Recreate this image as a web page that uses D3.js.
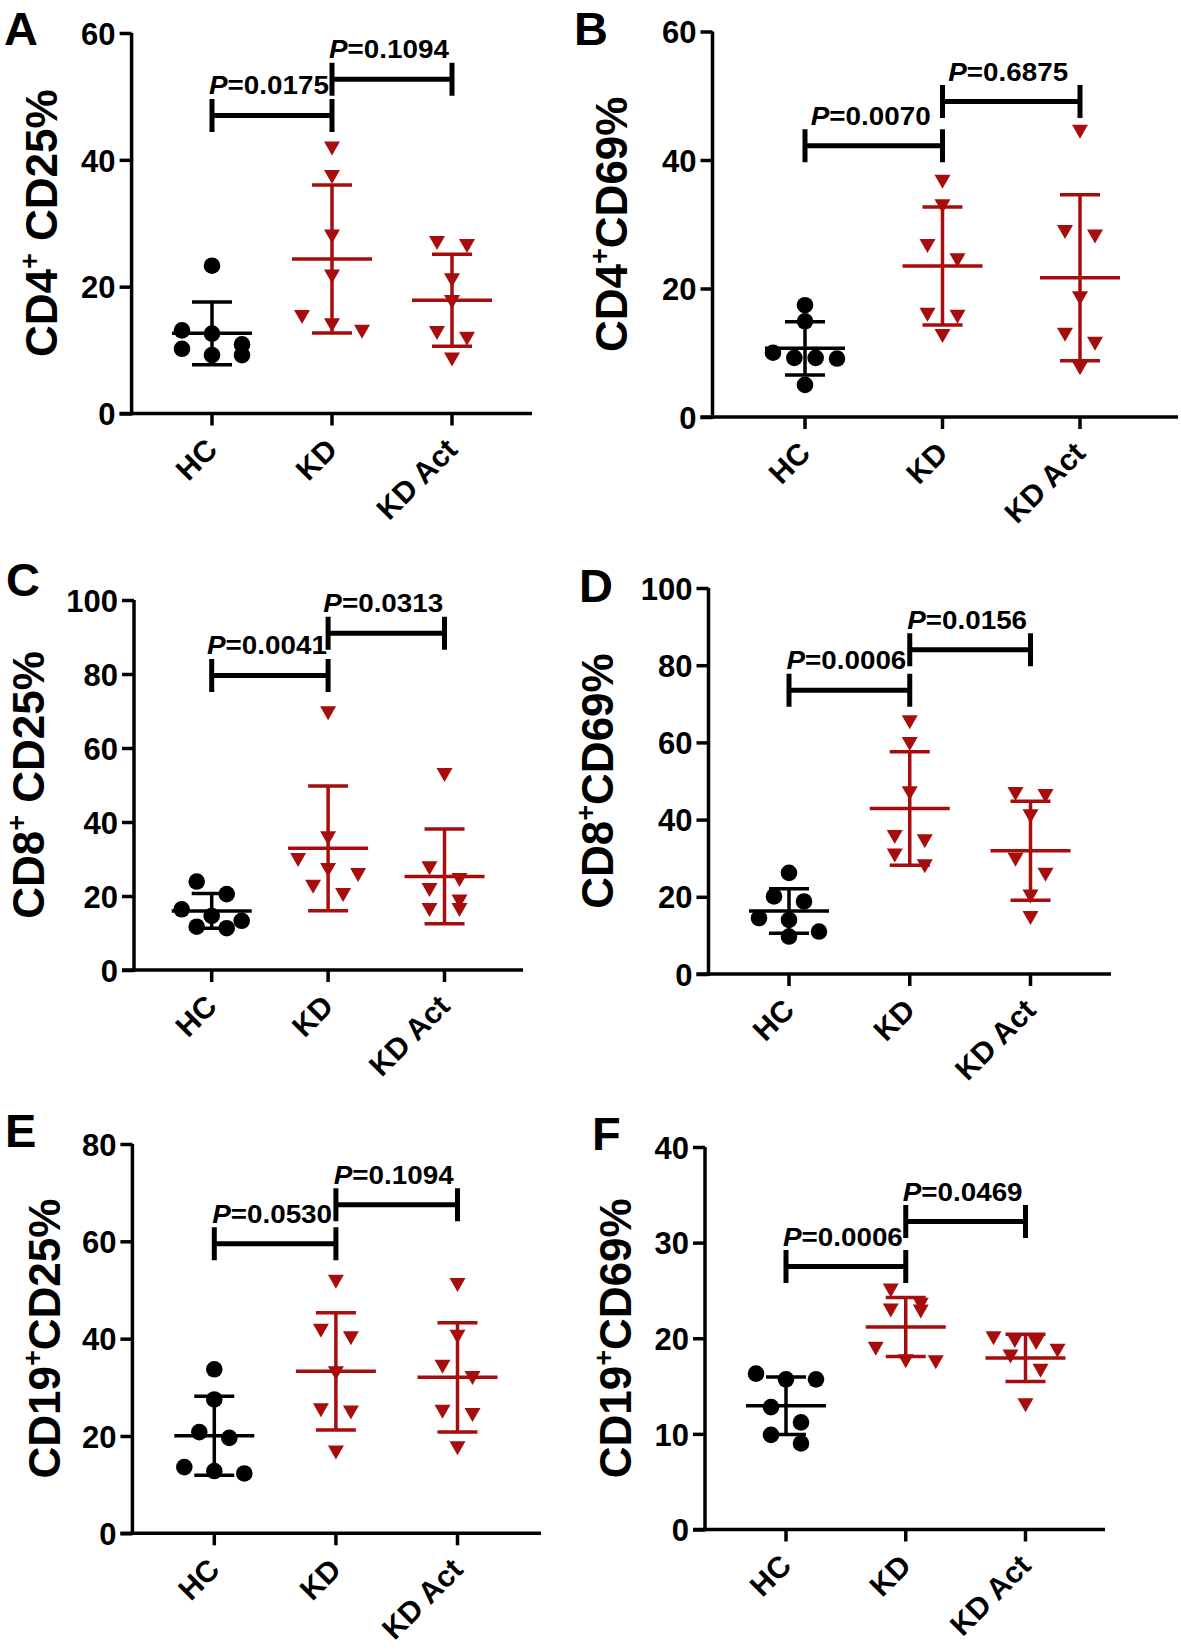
<!DOCTYPE html>
<html><head><meta charset="utf-8">
<script src="https://cdn.jsdelivr.net/npm/d3@7"></script>
<style>
body{margin:0;background:#fff}
svg{display:block}
text{font-family:"Liberation Sans",Arial,Helvetica,sans-serif;font-weight:bold;fill:#000}
</style>
</head><body>
<svg id="chart" width="1181" height="1650"></svg>
<script>
// ---------------- DATA ----------------
const groups = ["HC", "KD", "KD Act"];

const A_HC    = [23.3, 13.1, 12.6, 10.9, 10.2, 9.2, 9.2];
const A_KD    = [41.8, 37.3, 27.9, 21.6, 15.2, 13.9, 12.9];
const A_KDAct = [26.9, 26.4, 21.0, 17.6, 12.7, 11.8, 8.5];
const A_ticks = [0, 20, 40, 60];
const A_pvals = ["0.0175", "0.1094"];
const A_pY    = [47.0, 52.7];

const B_HC    = [17.4, 14.9, 10.0, 9.2, 9.2, 9.1, 5.0];
const B_KD    = [36.6, 32.8, 26.6, 24.4, 15.9, 15.6, 12.6];
const B_KDAct = [44.4, 28.8, 28.1, 18.5, 12.8, 11.4, 7.6];
const B_ticks = [0, 20, 40, 60];
const B_pvals = ["0.0070", "0.6875"];
const B_pY    = [42.2, 49.1];

const C_HC    = [23.9, 20.5, 16.4, 14.6, 13.3, 11.7, 11.3];
const C_KD    = [69.4, 35.6, 29.7, 27.0, 25.7, 22.5, 20.3];
const C_KDAct = [52.7, 27.5, 24.3, 21.6, 18.5, 16.2, 16.2];
const C_ticks = [0, 20, 40, 60, 80, 100];
const C_pvals = ["0.0041", "0.0313"];
const C_pY    = [79.6, 91.0];

const D_HC    = [26.2, 20.1, 18.8, 14.5, 14.0, 11.0, 9.7];
const D_KD    = [65.2, 59.6, 46.8, 35.5, 34.4, 30.7, 27.9];
const D_KDAct = [46.6, 46.1, 40.9, 29.6, 25.7, 20.1, 14.5];
const D_ticks = [0, 20, 40, 60, 80, 100];
const D_pvals = ["0.0006", "0.0156"];
const D_pY    = [73.5, 84.0];

const E_HC    = [33.7, 27.5, 20.8, 19.6, 13.6, 12.8, 12.3];
const E_KD    = [51.7, 41.6, 40.1, 32.9, 25.3, 24.8, 16.6];
const E_KDAct = [51.0, 40.4, 34.2, 31.9, 25.0, 24.3, 17.5];
const E_ticks = [0, 20, 40, 60, 80];
const E_pvals = ["0.0530", "0.1094"];
const E_pY    = [59.5, 67.5];

const F_HC    = [16.3, 15.7, 15.7, 12.8, 11.2, 9.9, 9.0];
const F_KD    = [25.0, 23.5, 22.9, 22.8, 18.9, 17.6, 17.5];
const F_KDAct = [20.0, 19.7, 19.5, 18.7, 18.1, 16.6, 13.0];
const F_ticks = [0, 10, 20, 30, 40];
const F_pvals = ["0.0006", "0.0469"];
const F_pY    = [27.5, 32.2];

const titles = {
  A: ["CD4", "+", " CD25%"],
  B: ["CD4", "+", "CD69%"],
  C: ["CD8", "+", " CD25%"],
  D: ["CD8", "+", "CD69%"],
  E: ["CD19", "+", "CD25%"],
  F: ["CD19", "+", "CD69%"]
};

// ---------------- LAYOUT ----------------
const panels = [
  {id:"A", data:[A_HC,A_KD,A_KDAct], ticks:A_ticks, p:A_pvals, pY:A_pY,
   ax:131.6, y0:413.5, yTop:33,   xs:[212,452],     xr:532,  tdx:75, letter:[4,45]},
  {id:"B", data:[B_HC,B_KD,B_KDAct], ticks:B_ticks, p:B_pvals, pY:B_pY,
   ax:712.5, y0:417,   yTop:31.5, xs:[805,1080],    xr:1178, tdx:86, letter:[574,45]},
  {id:"C", data:[C_HC,C_KD,C_KDAct], ticks:C_ticks, p:C_pvals, pY:C_pY,
   ax:134,   y0:970,   yTop:600,  xs:[211.7,444.5], xr:523,  tdx:90, letter:[6,596]},
  {id:"D", data:[D_HC,D_KD,D_KDAct], ticks:D_ticks, p:D_pvals, pY:D_pY,
   ax:708.5, y0:974,   yTop:588,  xs:[789,1030.5],  xr:1111, tdx:96, letter:[579,602]},
  {id:"E", data:[E_HC,E_KD,E_KDAct], ticks:E_ticks, p:E_pvals, pY:E_pY,
   ax:132.4, y0:1533.3,yTop:1144, xs:[214.3,457.5], xr:541,  tdx:72, letter:[5,1147]},
  {id:"F", data:[F_HC,F_KD,F_KDAct], ticks:F_ticks, p:F_pvals, pY:F_pY,
   ax:705,   y0:1529.5,yTop:1147, xs:[786,1025.5],  xr:1105, tdx:74, letter:[592,1150]}
];

const RED = "#a80d0d";
const colors = ["#000", RED, RED];
const AXW = 3.5, TICK = 12;

const svg = d3.select("#chart");

// GraphPad-like scatter: points that fall in the same row are spread symmetrically
function swarm(vals, y, step, diam, maxHalf) {
  const idx = vals.map((v, i) => i).sort((a, b) => vals[b] - vals[a]);
  const off = new Array(vals.length);
  let row = [];
  const flush = () => {
    const n = row.length;
    const s = n > 1 ? Math.min(step, 2 * maxHalf / (n - 1)) : 0;
    row.forEach((i, j) => { off[i] = (j - (n - 1) / 2) * s; });
    row = [];
  };
  idx.forEach(i => {
    if (row.length && Math.abs(y(vals[i]) - y(vals[row[0]])) >= diam) flush();
    row.push(i);
  });
  flush();
  return off;
}

panels.forEach(P => {
  const g = svg.append("g");
  const ymax = d3.max(P.ticks);
  const y = d3.scaleLinear().domain([0, ymax]).range([P.y0, P.yTop]);
  const x = d3.scalePoint().domain(groups).range(P.xs);

  // panel letter
  g.append("text").attr("x", P.letter[0]).attr("y", P.letter[1])
    .attr("font-size", 47).text(P.id);

  // y axis
  const yAxis = d3.axisLeft(y).tickValues(P.ticks).tickSize(TICK).tickSizeOuter(0).tickPadding(5);
  const ya = g.append("g").attr("transform", `translate(${P.ax},0)`).call(yAxis);
  ya.select(".domain").attr("stroke", "#000").attr("stroke-width", AXW)
    .attr("d", `M0,${P.y0 + AXW/2}V${P.yTop}`);
  ya.selectAll(".tick line").attr("stroke", "#000").attr("stroke-width", AXW)
    .attr("x1", 0).attr("x2", -TICK);
  ya.selectAll(".tick text").attr("font-size", 31).attr("font-family", null)
    .attr("fill", "#000").attr("x", -TICK - 4).attr("dy", "0.36em");

  // x axis
  g.append("line").attr("x1", P.ax - TICK).attr("x2", P.xr)
    .attr("y1", P.y0).attr("y2", P.y0).attr("stroke", "#000").attr("stroke-width", AXW);
  g.selectAll(".xt").data(groups).join("line")
    .attr("x1", d => x(d)).attr("x2", d => x(d))
    .attr("y1", P.y0).attr("y2", P.y0 + TICK)
    .attr("stroke", "#000").attr("stroke-width", AXW);
  g.selectAll(".xl").data(groups).join("text")
    .attr("font-size", 30).attr("text-anchor", "end")
    .attr("transform", d => `translate(${x(d) + 7},${P.y0 + 38}) rotate(-45)`)
    .text(d => d);

  // y title
  const midY = (P.y0 + P.yTop) / 2;
  const tt = g.append("text").attr("font-size", 44).attr("text-anchor", "middle")
    .attr("transform", `translate(${P.ax - P.tdx},${midY}) rotate(-90)`);
  const parts = titles[P.id];
  tt.append("tspan").text(parts[0]);
  tt.append("tspan").attr("font-size", 27).attr("dy", -18).text(parts[1]);
  tt.append("tspan").attr("dy", 18).text(parts[2]);

  // points
  P.data.forEach((vals, gi) => {
    const cx = x(groups[gi]);
    const off = swarm(vals, y, 30, 16, 32);
    if (gi === 0) {
      g.selectAll(null).data(vals).join("circle")
        .attr("cx", (d, i) => cx + off[i]).attr("cy", d => y(d))
        .attr("r", 8.3).attr("fill", colors[gi]);
    } else {
      const w = 16, h = 14;
      g.selectAll(null).data(vals).join("path")
        .attr("d", `M${-w/2},${-h/2}L${w/2},${-h/2}L0,${h/2}Z`)
        .attr("transform", (d, i) => `translate(${cx + off[i]},${y(d)})`)
        .attr("fill", colors[gi]);
    }
    // mean ± SD
    const m = d3.mean(vals), sd = d3.deviation(vals);
    const eg = g.append("g").attr("stroke", colors[gi]).attr("stroke-width", 3.5);
    eg.append("line").attr("x1", cx - 40).attr("x2", cx + 40).attr("y1", y(m)).attr("y2", y(m));
    eg.append("line").attr("x1", cx).attr("x2", cx).attr("y1", y(m + sd)).attr("y2", y(m - sd));
    [m + sd, m - sd].forEach(v => {
      eg.append("line").attr("x1", cx - 20).attr("x2", cx + 20).attr("y1", y(v)).attr("y2", y(v));
    });
  });

  // significance brackets
  const pairs = [[0, 1], [1, 2]];
  pairs.forEach((pr, k) => {
    const x1 = x(groups[pr[0]]), x2 = x(groups[pr[1]]);
    const by = y(P.pY[k]);
    const hl = 16.5;
    g.append("path")
      .attr("d", `M${x1},${by - hl}V${by + hl}M${x1},${by}H${x2}M${x2},${by - hl}V${by + hl}`)
      .attr("fill", "none").attr("stroke", "#000").attr("stroke-width", 5);
    const t = g.append("text").attr("font-size", 26).attr("text-anchor", "middle");
    t.append("tspan").attr("font-style", "italic").text("P");
    t.append("tspan").text("=" + P.p[k]);
    const w = t.node().getComputedTextLength();
    t.attr("transform", `translate(${(x1 + x2) / 2 - 3},${by - 21}) scale(${120 / w},1)`);
  });
});
</script>
</body></html>
